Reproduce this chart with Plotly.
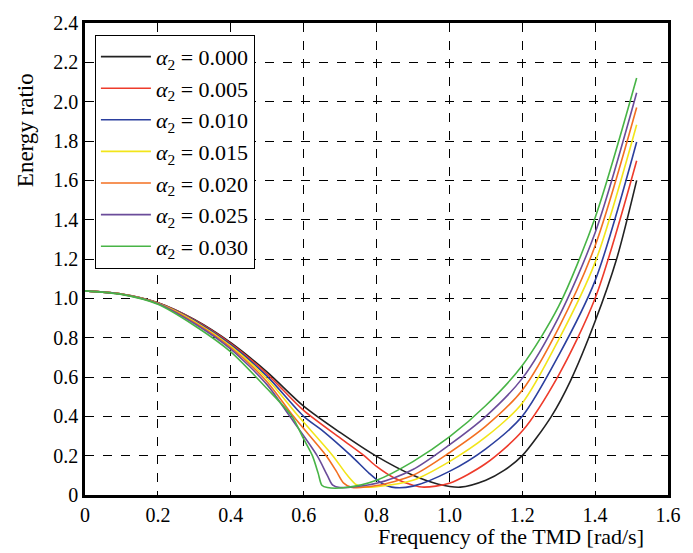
import plotly.graph_objects as go

# ---- data ----
labels = ["0.000", "0.005", "0.010", "0.015", "0.020", "0.025", "0.030"]
colors = ["#222222", "#ee3b2b", "#2b3f9e", "#f2e51a", "#f36f21", "#6b4c9a", "#48b446"]

x_a000 = [0, 0.1, 0.2, 0.3, 0.4, 0.5, 0.6, 0.7, 0.797, 0.9, 0.97, 1.03, 1.1, 1.15, 1.2, 1.28, 1.333, 1.4, 1.459, 1.514]
y_a000 = [1.038, 1.022, 0.978, 0.893, 0.775, 0.625, 0.452, 0.318, 0.20, 0.10, 0.055, 0.04, 0.075, 0.125, 0.2, 0.4, 0.583, 0.883, 1.2, 1.6]

x_a005 = [0, 0.1, 0.2, 0.3, 0.4, 0.5, 0.6, 0.7, 0.766, 0.8, 0.85, 0.9, 0.93, 1.0, 1.1, 1.2, 1.3, 1.4, 1.514]
y_a005 = [1.038, 1.022, 0.977, 0.89, 0.77, 0.615, 0.43, 0.29, 0.20, 0.145, 0.085, 0.05, 0.04, 0.06, 0.16, 0.325, 0.61, 1.0, 1.70]

x_a010 = [0, 0.1, 0.2, 0.3, 0.4, 0.5, 0.6, 0.65, 0.73, 0.78, 0.81, 0.842, 0.9, 1.0, 1.1, 1.2, 1.3, 1.4, 1.514]
y_a010 = [1.038, 1.022, 0.976, 0.887, 0.764, 0.603, 0.40, 0.33, 0.20, 0.11, 0.065, 0.04, 0.045, 0.12, 0.235, 0.40, 0.71, 1.09, 1.795]

x_a015 = [0, 0.1, 0.2, 0.3, 0.4, 0.5, 0.586, 0.68, 0.72, 0.745, 0.77, 0.8, 0.9, 1.0, 1.1, 1.2, 1.3, 1.4, 1.514]
y_a015 = [1.038, 1.022, 0.975, 0.883, 0.757, 0.59, 0.40, 0.20, 0.10, 0.052, 0.04, 0.042, 0.075, 0.17, 0.295, 0.467, 0.79, 1.183, 1.883]

x_a020 = [0, 0.1, 0.2, 0.3, 0.4, 0.5, 0.572, 0.662, 0.69, 0.71, 0.73, 0.8, 0.9, 1.0, 1.1, 1.2, 1.3, 1.4, 1.514]
y_a020 = [1.038, 1.021, 0.974, 0.878, 0.75, 0.575, 0.40, 0.20, 0.12, 0.06, 0.04, 0.048, 0.10, 0.215, 0.35, 0.533, 0.85, 1.267, 1.97]

x_a025 = [0, 0.1, 0.2, 0.3, 0.4, 0.5, 0.562, 0.637, 0.665, 0.68, 0.70, 0.8, 0.9, 1.0, 1.1, 1.2, 1.3, 1.4, 1.514]
y_a025 = [1.038, 1.021, 0.973, 0.872, 0.742, 0.56, 0.40, 0.20, 0.10, 0.05, 0.038, 0.06, 0.13, 0.255, 0.40, 0.593, 0.905, 1.333, 2.045]

x_a030 = [0, 0.1, 0.2, 0.3, 0.4, 0.5, 0.568, 0.6, 0.624, 0.64, 0.65, 0.665, 0.716, 0.8, 0.9, 1.0, 1.1, 1.2, 1.3, 1.4, 1.514]
y_a030 = [1.038, 1.02, 0.97, 0.862, 0.728, 0.54, 0.40, 0.285, 0.20, 0.11, 0.05, 0.038, 0.038, 0.075, 0.17, 0.295, 0.455, 0.658, 0.96, 1.41, 2.12]

xs = [x_a000, x_a005, x_a010, x_a015, x_a020, x_a025, x_a030]
ys = [y_a000, y_a005, y_a010, y_a015, y_a020, y_a025, y_a030]

x_ticks = [0, 0.2, 0.4, 0.6, 0.8, 1.0, 1.2, 1.4, 1.6]
x_ticktext = ["0", "0.2", "0.4", "0.6", "0.8", "1.0", "1.2", "1.4", "1.6"]
y_ticks = [0, 0.2, 0.4, 0.6, 0.8, 1.0, 1.2, 1.4, 1.6, 1.8, 2.0, 2.2, 2.4]
y_ticktext = ["0", "0.2", "0.4", "0.6", "0.8", "1.0", "1.2", "1.4", "1.6", "1.8", "2.0", "2.2", "2.4"]

FONT = "Liberation Serif"

fig = go.Figure()
for lab, col, x, y in zip(labels, colors, xs, ys):
    fig.add_trace(go.Scatter(
        x=x, y=y, mode="lines",
        line=dict(color=col, width=1.6, shape="spline", smoothing=0.8),
        name="<i>α</i><sub>2</sub> = " + lab,
    ))

axis_common = dict(
    showgrid=True, gridcolor="black", gridwidth=1, griddash="dash",
    showline=True, linecolor="black", linewidth=2.5, mirror=True,
    zeroline=False, ticks="", tickfont=dict(family=FONT, size=20, color="black"),
)

fig.update_layout(
    width=693, height=553,
    margin=dict(l=85, r=16, t=15, b=58),
    paper_bgcolor="white", plot_bgcolor="white",
    font=dict(family=FONT, color="black"),
    showlegend=True,
    legend=dict(
        x=0.017, y=0.975, xanchor="left", yanchor="top",
        bgcolor="white", bordercolor="black", borderwidth=1,
        font=dict(family=FONT, size=22, color="black"),
        tracegroupgap=0, itemwidth=50,
    ),
    xaxis=dict(range=[0, 1.6], tickvals=x_ticks, ticktext=x_ticktext, **axis_common),
    yaxis=dict(range=[0, 2.4], tickvals=y_ticks, ticktext=y_ticktext, **axis_common),
)

fig.add_annotation(
    text="Frequency of the TMD [rad/s]", xref="paper", yref="paper",
    x=0.963, y=0, xanchor="right", yanchor="top", yshift=-27, showarrow=False,
    font=dict(family=FONT, size=22, color="black"),
)
fig.add_annotation(
    text="Energy ratio", xref="paper", yref="paper",
    x=0, y=0.773, xanchor="center", yanchor="middle", xshift=-60, textangle=-90,
    showarrow=False, font=dict(family=FONT, size=23, color="black"),
)

fig.write_html("out.html")
